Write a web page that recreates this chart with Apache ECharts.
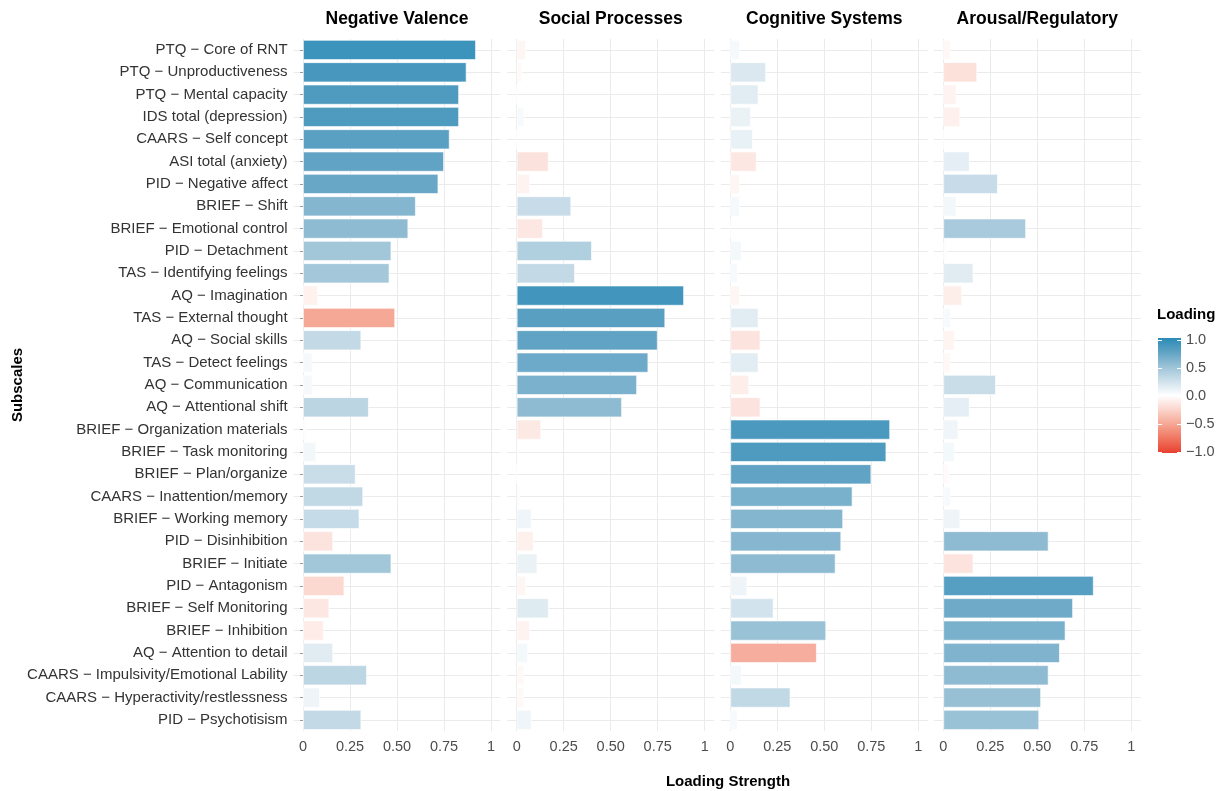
<!DOCTYPE html>
<html>
<head>
<meta charset="utf-8">
<script src="https://cdn.jsdelivr.net/npm/echarts@6/dist/echarts.min.js"></script>
<style>
  html, body { margin: 0; padding: 0; background: #fff; }
  #chart { width: 1224px; height: 791px; }
</style>
</head>
<body>
<div id="chart"></div>
<script>
// subscales, top to bottom
const subscales = [
  'PTQ − Core of RNT', 'PTQ − Unproductiveness', 'PTQ − Mental capacity',
  'IDS total (depression)', 'CAARS − Self concept', 'ASI total (anxiety)',
  'PID − Negative affect', 'BRIEF − Shift', 'BRIEF − Emotional control',
  'PID − Detachment', 'TAS − Identifying feelings', 'AQ − Imagination',
  'TAS − External thought', 'AQ − Social skills', 'TAS − Detect feelings',
  'AQ − Communication', 'AQ − Attentional shift', 'BRIEF − Organization materials',
  'BRIEF − Task monitoring', 'BRIEF − Plan/organize', 'CAARS − Inattention/memory',
  'BRIEF − Working memory', 'PID − Disinhibition', 'BRIEF − Initiate',
  'PID − Antagonism', 'BRIEF − Self Monitoring', 'BRIEF − Inhibition',
  'AQ − Attention to detail', 'CAARS − Impulsivity/Emotional Lability',
  'CAARS − Hyperactivity/restlessness', 'PID − Psychotisism'
]

const panels = ['Negative Valence', 'Social Processes', 'Cognitive Systems', 'Arousal/Regulatory']

// signed loadings, same order as subscales
const negativeValence = [0.92, 0.87, 0.83, 0.83, 0.78, 0.75, 0.72, 0.60, 0.56, 0.47, 0.46, -0.08, -0.49, 0.31, 0.05, 0.05,
  0.35, -0.02, 0.07, 0.28, 0.32, 0.30, -0.16, 0.47, -0.22, -0.14, -0.11, 0.16, 0.34, 0.09, 0.31]
const socialProcesses = [-0.05, -0.03, 0.0, 0.04, 0.0, -0.17, -0.07, 0.29, -0.14, 0.40, 0.31, 0.89, 0.79, 0.75, 0.70, 0.64,
  0.56, -0.13, -0.01, 0.0, 0.02, 0.08, -0.09, 0.11, -0.05, 0.17, -0.07, 0.06, -0.04, -0.04, 0.08]
const cognitiveSystems = [0.05, 0.19, 0.15, 0.11, 0.12, -0.14, -0.05, 0.05, 0.0, 0.06, 0.04, -0.05, 0.15, -0.16, 0.15, -0.10,
  -0.16, 0.85, 0.83, 0.75, 0.65, 0.60, 0.59, 0.56, 0.09, 0.23, 0.51, -0.46, 0.06, 0.32, 0.04]
const arousalRegulatory = [-0.04, -0.18, -0.07, -0.09, 0.0, 0.14, 0.29, 0.07, 0.44, -0.02, 0.16, -0.10, 0.04, -0.06, -0.04, 0.28,
  0.14, 0.08, 0.06, -0.03, 0.04, 0.09, 0.56, -0.16, 0.80, 0.69, 0.65, 0.62, 0.56, 0.52, 0.51]

const xTicks = [0, 0.25, 0.5, 0.75, 1]
const xTickLabels = ['0', '0.25', '0.50', '0.75', '1']
const legendTicks = [1, 0.5, 0, -0.5, -1]
const legendTickLabels = ['1.0', '0.5', '0.0', '−0.5', '−1.0']

const panelData = [negativeValence, socialProcesses, cognitiveSystems, arousalRegulatory]

// diverging scale, red (-1) -> white (0) -> blue (1)
const scaleColors = ['#e8402f', '#f07560', '#f5a694', '#fbd4cb', '#ffffff', '#cfe1eb', '#9cc3d7', '#61a3c4', '#2a8bb8']

const font = 'Liberation Sans, Arial, sans-serif'
const panelLeft = [293.6, 507.3, 720.9, 933.9]
const panelWidth = 206.8
const gridTop = 38.8
const gridHeight = 692.3
const rowIdx = subscales.map((s, i) => i)

const chart = echarts.init(document.getElementById('chart'), null, { renderer: 'canvas' })

const grids = panelLeft.map(l => ({ left: l, top: gridTop, width: panelWidth, height: gridHeight, containLabel: false }))

const xAxes = panels.map((p, i) => ({
  type: 'value',
  gridIndex: i,
  min: -0.05,
  max: 1.05,
  axisLine: { show: false },
  axisTick: { show: false, customValues: xTicks },
  axisLabel: {
    customValues: xTicks,
    color: '#4d4d4d',
    fontSize: 14.5,
    fontFamily: font,
    margin: 8,
    formatter: v => {
      const k = xTicks.findIndex(t => Math.abs(t - v) < 1e-6)
      return k >= 0 ? xTickLabels[k] : ''
    }
  },
  splitLine: { show: true, lineStyle: { color: '#ebebeb', width: 1 } }
}))

const catAxes = panels.map((p, i) => ({
  type: 'category',
  gridIndex: i,
  data: subscales,
  inverse: true,
  axisLine: { show: false },
  axisTick: { show: i === 0, alignWithLabel: true, length: 3, lineStyle: { color: '#999' } },
  axisLabel: { show: i === 0, color: '#333', fontSize: 15, fontFamily: font, margin: 6 },
  splitLine: { show: false }
}))

// value axes only used for the horizontal grid lines through row centres
const rowAxes = panels.map((p, i) => ({
  type: 'value',
  gridIndex: i,
  min: -0.5,
  max: 30.5,
  inverse: true,
  position: 'left',
  axisLine: { show: false },
  axisTick: { show: false, customValues: rowIdx },
  axisLabel: { show: false, customValues: rowIdx },
  splitLine: { show: true, lineStyle: { color: '#ebebeb', width: 1 } },
  z: 0
}))

const series = panelData.map((vals, i) => ({
  type: 'bar',
  name: panels[i],
  xAxisIndex: i,
  yAxisIndex: i,
  barWidth: '90%',
  encode: { x: 0, y: 1 },
  itemStyle: { borderColor: 'rgba(255,255,255,0.8)', borderWidth: 0.8 },
  data: vals.map((v, k) => [Math.abs(v), subscales[k], v]),
  z: 3
}))

// legend colour bar
const barTop = 338, barH = 115, barX = 1158, barW = 23
const tickY = v => barTop + 1.5 + (1 - v) / 2 * (barH - 3)
const legendEls = [
  { type: 'text', x: barX - 1, y: 315, style: { text: 'Loading', font: 'bold 15px ' + font, fill: '#000', textVerticalAlign: 'middle' } },
  {
    type: 'rect', shape: { x: barX, y: barTop, width: barW, height: barH },
    style: {
      fill: new echarts.graphic.LinearGradient(0, 0, 0, 1,
        scaleColors.slice().reverse().map((c, k) => ({ offset: k / (scaleColors.length - 1), color: c })))
    }
  }
]
legendTicks.forEach((v, k) => {
  const y = Math.round(tickY(v)) + 0.5
  legendEls.push({ type: 'line', shape: { x1: barX, y1: y, x2: barX + 4, y2: y }, style: { stroke: '#fff', lineWidth: 1 } })
  legendEls.push({ type: 'line', shape: { x1: barX + barW - 4, y1: y, x2: barX + barW, y2: y }, style: { stroke: '#fff', lineWidth: 1 } })
  legendEls.push({ type: 'text', x: 1186, y: tickY(v), style: { text: legendTickLabels[k], font: '14.5px ' + font, fill: '#4d4d4d', textVerticalAlign: 'middle' } })
})

const titleEls = panels.map((p, i) => ({
  type: 'text', x: panelLeft[i] + panelWidth / 2, y: 19,
  style: { text: p, font: 'bold 17.5px ' + font, fill: '#000', textAlign: 'center', textVerticalAlign: 'middle' }
}))

const option = {
  backgroundColor: '#fff',
  animation: false,
  grid: grids,
  xAxis: xAxes,
  yAxis: catAxes.concat(rowAxes),
  visualMap: {
    type: 'continuous',
    show: false,
    min: -1,
    max: 1,
    dimension: 2,
    seriesIndex: [0, 1, 2, 3],
    inRange: { color: scaleColors }
  },
  graphic: { elements: titleEls.concat(legendEls).concat([
    { type: 'text', x: 728, y: 782, style: { text: 'Loading Strength', font: 'bold 15px ' + font, fill: '#000', textAlign: 'center', textVerticalAlign: 'middle' } },
    { type: 'text', x: 18, y: 385, rotation: Math.PI / 2, style: { text: 'Subscales', font: 'bold 15px ' + font, fill: '#000', textAlign: 'center', textVerticalAlign: 'middle' } }
  ]) },
  series: series
}

chart.setOption(option)
</script>
</body>
</html>
